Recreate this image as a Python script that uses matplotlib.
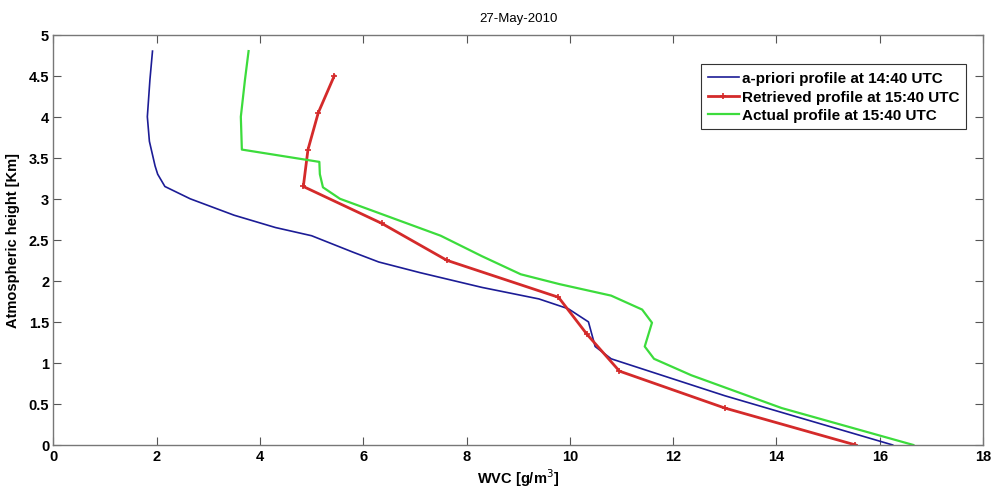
import matplotlib
matplotlib.use("Agg")
import matplotlib.pyplot as plt

# a-priori profile at 14:40 UTC
apriori_h = [4.8, 4.45, 4.0, 3.7, 3.4, 3.3, 3.15, 3.0, 2.8, 2.65, 2.55, 2.35,
             2.23, 2.1, 1.92, 1.78, 1.66, 1.5, 1.2, 1.05, 0.6, 0.0]
apriori_wvc = [1.92, 1.87, 1.82, 1.86, 1.97, 2.02, 2.16, 2.65, 3.5, 4.3, 5.0, 5.8,
               6.3, 7.1, 8.3, 9.4, 9.97, 10.36, 10.49, 10.8, 13.0, 16.25]

# retrieved profile at 15:40 UTC
retr_h = [4.5, 4.05, 3.6, 3.15, 2.7, 2.25, 1.8, 1.35, 0.9, 0.45, 0.0]
retr_wvc = [5.44, 5.13, 4.93, 4.84, 6.36, 7.62, 9.78, 10.33, 10.96, 13.0, 15.53]

# actual profile at 15:40 UTC
actual_h = [4.8, 4.45, 4.0, 3.6, 3.45, 3.3, 3.14, 3.0, 2.55, 2.3, 2.08, 1.96,
            1.82, 1.65, 1.49, 1.2, 1.05, 0.85, 0.45, 0.0]
actual_wvc = [3.78, 3.71, 3.63, 3.65, 5.15, 5.16, 5.22, 5.55, 7.5, 8.3, 9.05, 9.8,
              10.8, 11.4, 11.59, 11.45, 11.63, 12.35, 14.1, 16.65]

x_ticks = [0, 2, 4, 6, 8, 10, 12, 14, 16, 18]
y_ticks = [0, 0.5, 1, 1.5, 2, 2.5, 3, 3.5, 4, 4.5, 5]
y_ticklabels = ["0", "0.5", "1", "1.5", "2", "2.5", "3", "3.5", "4", "4.5", "5"]

plt.rcParams["font.family"] = ["Liberation Sans", "DejaVu Sans"]

fig = plt.figure(figsize=(9.95, 4.89), dpi=100)
ax = fig.add_axes([0.0536, 0.088, 0.9344, 0.839])

ax.plot(apriori_wvc, apriori_h, color="#1c1c96", lw=1.2,
        label="a-priori profile at 14:40 UTC")
ax.plot(retr_wvc, retr_h, color="#d42a2a", lw=2.0, marker="+", ms=5, mew=1.2,
        label="Retrieved profile at 15:40 UTC")
ax.plot(actual_wvc, actual_h, color="#3cdc3c", lw=1.6,
        label="Actual profile at 15:40 UTC")

ax.set_xlim(0, 18)
ax.set_ylim(0, 5)
ax.set_xticks(x_ticks)
ax.set_yticks(y_ticks)
ax.set_yticklabels(y_ticklabels)
ax.tick_params(direction="in", top=True, right=True, length=6, width=0.8,
               color="#555555", labelsize=10.5, pad=3)
for lbl in ax.get_xticklabels() + ax.get_yticklabels():
    lbl.set_fontweight("bold")
for sp in ax.spines.values():
    sp.set_color("#777777")
    sp.set_linewidth(1.0)

ax.set_xlabel("WVC [g/m$^3$]", fontsize=10.5, fontweight="bold", labelpad=2)
ax.set_ylabel("Atmospheric height [Km]", fontsize=10.5, fontweight="bold", labelpad=6)
ax.set_title("27-May-2010", fontsize=9.5, pad=10)

leg = ax.legend(loc="upper right", bbox_to_anchor=(0.985, 0.935), fancybox=False,
                edgecolor="#333333", framealpha=1, handlelength=2.0,
                handletextpad=0.2, borderpad=0.45, labelspacing=0.3,
                borderaxespad=0.2, prop={"weight": "bold", "size": 11})
leg.get_frame().set_linewidth(0.8)

fig.savefig("out.png", dpi=100)
